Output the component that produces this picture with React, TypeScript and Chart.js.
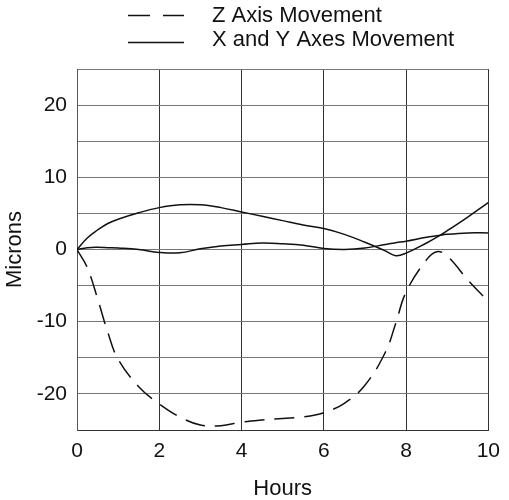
import React, { useEffect, useRef } from "react";
import { Chart, registerables } from "chart.js";

Chart.register(...registerables);

const hours = [0, 0.25, 0.5, 0.75, 1, 1.5, 2, 2.5, 3, 3.5, 4, 4.5, 5, 5.5, 6, 6.5, 7, 7.5, 7.75, 8, 8.5, 8.75, 9, 9.5, 10];
const zMovement = [0, -2.5, -6.8, -11.5, -15.2, -19.0, -21.4, -23.2, -24.3, -24.4, -23.9, -23.6, -23.4, -23.2, -22.6, -21.3, -18.8, -14.2, -10.2, -5.9, -1.4, -0.3, -0.9, -4.2, -7.2];
const xyMovementA = [0, 1.6, 2.7, 3.6, 4.2, 5.1, 5.8, 6.2, 6.2, 5.8, 5.2, 4.6, 4.0, 3.4, 2.9, 2.1, 1.0, -0.2, -0.85, -0.5, 0.9, 1.7, 2.6, 4.5, 6.5];
const xyMovementB = [0, 0.25, 0.3, 0.25, 0.2, 0, -0.4, -0.45, 0.1, 0.5, 0.7, 0.9, 0.8, 0.6, 0.15, 0, 0.2, 0.7, 0.95, 1.15, 1.7, 1.9, 2.1, 2.3, 2.3];
const legendLabels = ["Z Axis Movement", "X and Y Axes Movement"];
const xTitle = "Hours";
const yTitle = "Microns";

const FONT = "'Liberation Sans', Arial, Helvetica, sans-serif";

const legendPlugin = {
  id: "customLegend",
  afterDraw(chart: any) {
    const ctx = chart.ctx;
    ctx.save();
    ctx.strokeStyle = "#111";
    ctx.lineWidth = 1.5;
    ctx.setLineDash([22, 13]);
    ctx.beginPath();
    ctx.moveTo(128, 15.5);
    ctx.lineTo(184, 15.5);
    ctx.stroke();
    ctx.setLineDash([]);
    ctx.beginPath();
    ctx.moveTo(128, 42.5);
    ctx.lineTo(184, 42.5);
    ctx.stroke();
    ctx.fillStyle = "#111";
    ctx.font = `22px ${FONT}`;
    ctx.textAlign = "left";
    ctx.textBaseline = "middle";
    ctx.fillText(legendLabels[0], 212, 16);
    ctx.fillText(legendLabels[1], 212, 40);
    ctx.restore();
  },
};

export default function App() {
  const ref = useRef<HTMLCanvasElement | null>(null);
  useEffect(() => {
    if (!ref.current) return;
    const mk = (vals: number[]) => hours.map((h, i) => ({ x: h, y: vals[i] }));
    const chart = new Chart(ref.current, {
      type: "line",
      data: {
        datasets: [
          {
            label: legendLabels[0],
            data: mk(zMovement),
            borderColor: "#111",
            borderWidth: 1.5,
            borderDash: [20, 10],
            pointRadius: 0,
            tension: 0.4,
            fill: false,
          },
          {
            label: legendLabels[1],
            data: mk(xyMovementA),
            borderColor: "#111",
            borderWidth: 1.5,
            pointRadius: 0,
            tension: 0.4,
            fill: false,
          },
          {
            label: legendLabels[1] + " ",
            data: mk(xyMovementB),
            borderColor: "#111",
            borderWidth: 1.5,
            pointRadius: 0,
            tension: 0.4,
            fill: false,
          },
        ],
      },
      options: {
        animation: false,
        responsive: true,
        maintainAspectRatio: false,
        layout: { padding: { top: 69, right: 20, left: 0, bottom: 0 } },
        plugins: { legend: { display: false }, tooltip: { enabled: false } },
        scales: {
          x: {
            type: "linear",
            min: 0,
            max: 10,
            afterFit: (s: any) => {
              s.height = 70;
            },
            ticks: {
              stepSize: 2,
              padding: 9,
              color: "#111",
              font: { family: FONT, size: 21 },
            },
            grid: { color: "#333", lineWidth: 1, drawTicks: false },
            border: { color: "#333" },
            title: {
              display: true,
              text: xTitle,
              color: "#111",
              font: { family: FONT, size: 22, lineHeight: 1 },
              padding: { top: 4, bottom: 0 },
            },
          },
          y: {
            type: "linear",
            min: -25,
            max: 25,
            afterFit: (s: any) => {
              s.width = 77;
            },
            ticks: {
              stepSize: 5,
              padding: 10,
              color: "#111",
              font: { family: FONT, size: 21 },
              callback: (v: any) => (Number(v) % 10 === 0 ? String(v) : ""),
            },
            grid: { color: "#777", lineWidth: 1, drawTicks: false },
            border: { color: "#555" },
            title: {
              display: true,
              text: yTitle,
              color: "#111",
              font: { family: FONT, size: 22, lineHeight: 1 },
              padding: { top: 4, bottom: 4 },
            },
          },
        },
      },
      plugins: [legendPlugin],
    });
    return () => chart.destroy();
  }, []);
  return (
    <div style={{ position: "absolute", left: 0, top: 0, width: 509, height: 500 }}>
      <canvas ref={ref} />
    </div>
  );
}
